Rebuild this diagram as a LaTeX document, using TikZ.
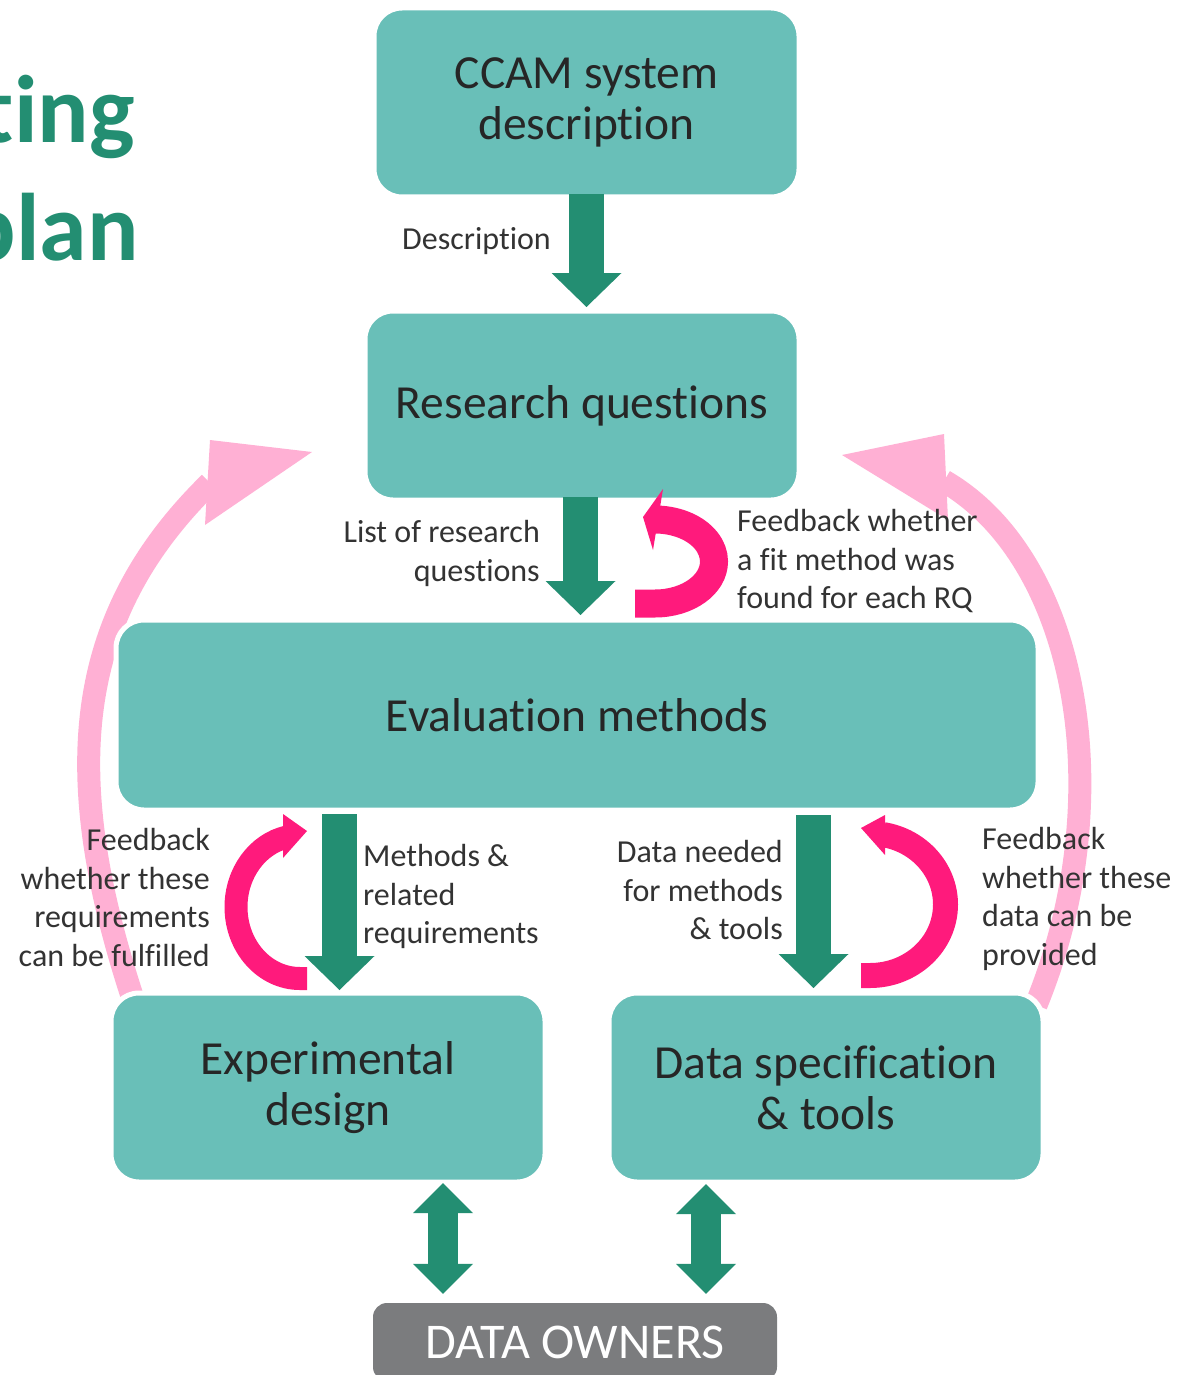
\documentclass[tikz,border=0pt]{standalone}
\usepackage{fontspec}
\setmainfont{Carlito}[Ligatures=NoCommon]
\usepackage{tikz}
\usetikzlibrary{calc, positioning, arrows.meta}
\usepackage{xcolor}
\definecolor{boxteal}{RGB}{105, 191, 184}
\definecolor{arrowgreen}{RGB}{35, 142, 114}
\definecolor{loopmagenta}{RGB}{255, 26, 124}
\definecolor{backpink}{RGB}{255, 176, 212}
\definecolor{boxtext}{RGB}{38, 38, 38}
\definecolor{labeltext}{RGB}{51, 51, 51}
\definecolor{ownergray}{RGB}{123, 124, 126}

\tikzset{
  stagebox/.style={rectangle, rounded corners=28pt, fill=boxteal, draw=white, line width=5pt,
    outer sep=0pt, text=boxtext, font=\fontsize{47.5}{51}\selectfont, align=center, inner sep=0pt},
  note/.style={text=labeltext, font=\fontsize{32}{38.5}\selectfont, inner sep=0pt},
  greenarrow/.style={draw=arrowgreen, line width=35pt,
    -{Triangle[length=34pt, width=70pt, line width=0pt]}},
  twowayarrow/.style={draw=arrowgreen, line width=30pt,
    {Triangle[length=30pt, width=60pt, line width=0pt]}-{Triangle[length=30pt, width=60pt, line width=0pt]}},
  loop/.style={draw=loopmagenta},
  backarrow/.style={draw=backpink, line width=23pt},
}

\begin{document}
\begin{tikzpicture}[x=1pt, y=-1pt]
  \useasboundingbox (0,0) rectangle (1176,1375);

  % Title fragment, cut by the page edge
  \node[anchor=base east, text=arrowgreen, font=\fontsize{96}{117}\selectfont\bfseries, inner sep=0pt]
    (ttl1) at (135,143) {ting};
  \node[anchor=base east, text=arrowgreen, font=\fontsize{96}{117}\selectfont\bfseries, inner sep=0pt]
    (ttl2) at (139,260) {plan};

  % Big feedback arrows back to the research questions
  \draw[backarrow] (135,1005) .. controls (60,780) and (70,620) .. (210,483);
  \fill[backpink] (210,440) -- (312,452) -- (205,525) -- cycle;
  \draw[backarrow] (1036,1005) .. controls (1120,800) and (1080,560) .. (944,481);
  \fill[backpink] (944,434) -- (842,455) -- (948,520) -- cycle;

  % Stages
  \node[stagebox, minimum width=425pt, minimum height=189pt] (ccam) at (586.5,102.5)
    {CCAM system\\description};
  \node[stagebox, minimum width=434pt, minimum height=189pt] (rq) at (582,405.5)
    {Research questions};
  \node[stagebox, minimum width=922pt, minimum height=190pt] (eval) at (577,715)
    {Evaluation methods};
  \node[stagebox, minimum width=434pt, minimum height=189pt] (exp) at (328,1087.5)
    {Experimental\\design};
  \node[stagebox, minimum width=434pt, minimum height=189pt] (dspec) at (826,1087.5)
    {Data specification\\\& tools};
  \node[rectangle, rounded corners=14pt, fill=ownergray, text=white, inner sep=0pt,
    font=\fontsize{50}{55}\selectfont, minimum width=404pt, minimum height=78pt]
    (owners) at (575,1342) {DATA OWNERS};

  % Flow downwards
  \draw[greenarrow] ([yshift=3pt]ccam.south) -- ++(0,113);
  \draw[greenarrow] ([xshift=-1.5pt,yshift=3pt]rq.south) -- ++(0,118);
  \draw[greenarrow] ([xshift=11.5pt,yshift=-4pt]eval.south -| exp.north)
    -- ([xshift=11.5pt,yshift=3pt]exp.north);
  \draw[greenarrow] ([xshift=-12.5pt,yshift=-5pt]eval.south -| dspec.north)
    -- ([xshift=-12.5pt,yshift=5pt]dspec.north);
  \draw[twowayarrow] ([xshift=115pt,yshift=-1pt]exp.south) -- ([xshift=-132pt,yshift=9pt]owners.north);
  \draw[twowayarrow] ([xshift=-120pt,yshift=-2pt]dspec.south) -- ([xshift=131pt,yshift=9pt]owners.north);

  % Small feedback loops
  \draw[loop, line width=28pt] (635,603.5) -- (655,603.5)
    arc[start angle=90, end angle=-92, x radius=59, y radius=42];
  \fill[loopmagenta] (663,489) -- (643,517) -- (653,550) -- cycle;
  \draw[loop, line width=23pt] (307,978.5) -- (300,978.5)
    arc[start angle=90, end angle=258, x radius=64, y radius=71.5];
  \fill[loopmagenta] (283,814) -- (307,831) -- (283,858) -- cycle;
  \draw[loop, line width=25pt] (861,975.5) -- (870,975.5)
    arc[start angle=90, end angle=-80, x radius=75.5, y radius=71];
  \fill[loopmagenta] (885,815) -- (861,828) -- (885,855) -- cycle;

  % Labels
  \node[note, anchor=east] (desc) at (551,241) {Description};
  \node[note, anchor=east, align=right] (listrq) at (540,553.5) {List of research\\questions};
  \node[note, anchor=west, align=left] (fbrq) at (737,561.5)
    {Feedback whether\\a fit method was\\found for each RQ};
  \node[note, anchor=west, align=left] (meth) at (363,896.5)
    {Methods \&\\related\\requirements};
  \node[note, anchor=east, align=right] (fbreq) at (210,897.5)
    {Feedback\\whether these\\requirements\\can be fulfilled};
  \node[note, anchor=east, align=right] (need) at (783,890)
    {Data needed\\for methods\\\& tools};
  \node[note, anchor=west, align=left] (fbdata) at (982,899)
    {Feedback\\whether these\\data can be\\provided};
\end{tikzpicture}
\end{document}
